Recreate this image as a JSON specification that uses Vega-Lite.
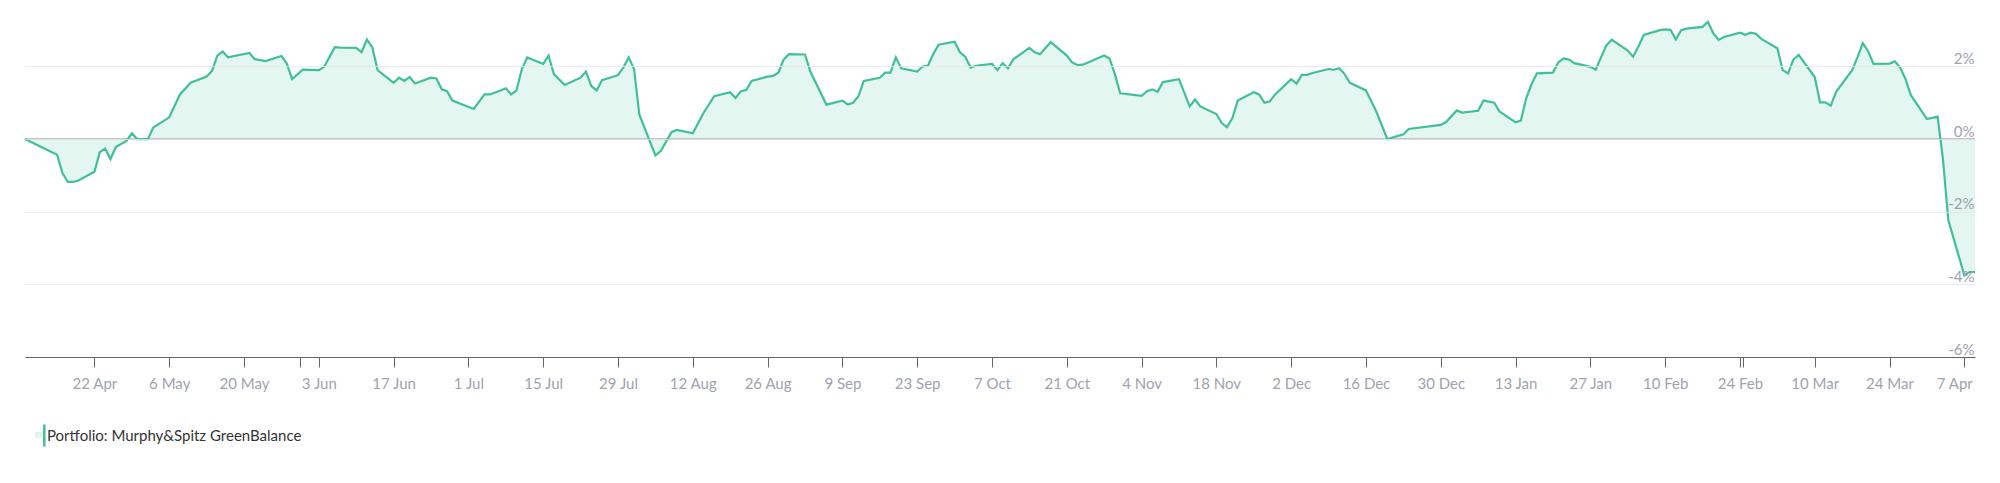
{
"$schema": "https://vega.github.io/schema/vega-lite/v6.json",
"width": 1950, "height": 357,
"autosize": {"type": "none"},
"padding": {"left": 25, "top": 0, "right": 25, "bottom": 126},
"background": "white",
"config": {"view": {"stroke": null}, "font": "Lato"},
"data": {"values": [
{"date":"2024-04-09","value":0},
{"date":"2024-04-15","value":-0.43},
{"date":"2024-04-16","value":-0.93},
{"date":"2024-04-17","value":-1.18},
{"date":"2024-04-18","value":-1.18},
{"date":"2024-04-19","value":-1.14},
{"date":"2024-04-22","value":-0.9},
{"date":"2024-04-23","value":-0.36},
{"date":"2024-04-24","value":-0.26},
{"date":"2024-04-25","value":-0.55},
{"date":"2024-04-26","value":-0.22},
{"date":"2024-04-28","value":-0.05},
{"date":"2024-04-29","value":0.16},
{"date":"2024-04-30","value":0},
{"date":"2024-05-02","value":0},
{"date":"2024-05-03","value":0.32},
{"date":"2024-05-06","value":0.6},
{"date":"2024-05-08","value":1.23},
{"date":"2024-05-10","value":1.55},
{"date":"2024-05-13","value":1.72},
{"date":"2024-05-14","value":1.88},
{"date":"2024-05-15","value":2.3},
{"date":"2024-05-16","value":2.41},
{"date":"2024-05-17","value":2.25},
{"date":"2024-05-21","value":2.37},
{"date":"2024-05-22","value":2.2},
{"date":"2024-05-24","value":2.15},
{"date":"2024-05-27","value":2.29},
{"date":"2024-05-28","value":2.08},
{"date":"2024-05-29","value":1.65},
{"date":"2024-05-31","value":1.91},
{"date":"2024-06-03","value":1.9},
{"date":"2024-06-04","value":1.99},
{"date":"2024-06-06","value":2.53},
{"date":"2024-06-07","value":2.52},
{"date":"2024-06-10","value":2.51},
{"date":"2024-06-11","value":2.39},
{"date":"2024-06-12","value":2.74},
{"date":"2024-06-13","value":2.53},
{"date":"2024-06-14","value":1.9},
{"date":"2024-06-17","value":1.55},
{"date":"2024-06-18","value":1.69},
{"date":"2024-06-19","value":1.6},
{"date":"2024-06-20","value":1.71},
{"date":"2024-06-21","value":1.53},
{"date":"2024-06-24","value":1.69},
{"date":"2024-06-25","value":1.67},
{"date":"2024-06-26","value":1.37},
{"date":"2024-06-27","value":1.32},
{"date":"2024-06-28","value":1.06},
{"date":"2024-07-02","value":0.83},
{"date":"2024-07-04","value":1.23},
{"date":"2024-07-05","value":1.23},
{"date":"2024-07-07","value":1.34},
{"date":"2024-07-08","value":1.4},
{"date":"2024-07-09","value":1.23},
{"date":"2024-07-10","value":1.34},
{"date":"2024-07-11","value":1.93},
{"date":"2024-07-12","value":2.25},
{"date":"2024-07-15","value":2.07},
{"date":"2024-07-16","value":2.3},
{"date":"2024-07-17","value":1.79},
{"date":"2024-07-19","value":1.49},
{"date":"2024-07-22","value":1.69},
{"date":"2024-07-23","value":1.86},
{"date":"2024-07-24","value":1.46},
{"date":"2024-07-25","value":1.34},
{"date":"2024-07-26","value":1.62},
{"date":"2024-07-29","value":1.76},
{"date":"2024-07-30","value":1.97},
{"date":"2024-07-31","value":2.25},
{"date":"2024-08-01","value":1.93},
{"date":"2024-08-02","value":0.67},
{"date":"2024-08-05","value":-0.45},
{"date":"2024-08-06","value":-0.33},
{"date":"2024-08-07","value":-0.07},
{"date":"2024-08-08","value":0.19},
{"date":"2024-08-09","value":0.25},
{"date":"2024-08-12","value":0.16},
{"date":"2024-08-14","value":0.72},
{"date":"2024-08-16","value":1.18},
{"date":"2024-08-19","value":1.29},
{"date":"2024-08-20","value":1.13},
{"date":"2024-08-21","value":1.32},
{"date":"2024-08-22","value":1.35},
{"date":"2024-08-23","value":1.6},
{"date":"2024-08-26","value":1.72},
{"date":"2024-08-27","value":1.74},
{"date":"2024-08-28","value":1.83},
{"date":"2024-08-29","value":2.19},
{"date":"2024-08-30","value":2.34},
{"date":"2024-09-02","value":2.33},
{"date":"2024-09-03","value":1.86},
{"date":"2024-09-06","value":0.95},
{"date":"2024-09-09","value":1.06},
{"date":"2024-09-10","value":0.95},
{"date":"2024-09-11","value":1.0},
{"date":"2024-09-12","value":1.18},
{"date":"2024-09-13","value":1.6},
{"date":"2024-09-16","value":1.69},
{"date":"2024-09-17","value":1.83},
{"date":"2024-09-18","value":1.83},
{"date":"2024-09-19","value":2.25},
{"date":"2024-09-20","value":1.95},
{"date":"2024-09-23","value":1.86},
{"date":"2024-09-24","value":2.0},
{"date":"2024-09-25","value":2.02},
{"date":"2024-09-26","value":2.34},
{"date":"2024-09-27","value":2.6},
{"date":"2024-09-30","value":2.68},
{"date":"2024-10-01","value":2.39},
{"date":"2024-10-02","value":2.27},
{"date":"2024-10-03","value":1.97},
{"date":"2024-10-04","value":2.02},
{"date":"2024-10-07","value":2.07},
{"date":"2024-10-08","value":1.9},
{"date":"2024-10-09","value":2.09},
{"date":"2024-10-10","value":1.95},
{"date":"2024-10-11","value":2.2},
{"date":"2024-10-14","value":2.51},
{"date":"2024-10-15","value":2.39},
{"date":"2024-10-16","value":2.34},
{"date":"2024-10-18","value":2.67},
{"date":"2024-10-21","value":2.3},
{"date":"2024-10-22","value":2.11},
{"date":"2024-10-23","value":2.04},
{"date":"2024-10-24","value":2.05},
{"date":"2024-10-28","value":2.3},
{"date":"2024-10-29","value":2.22},
{"date":"2024-10-30","value":1.79},
{"date":"2024-10-31","value":1.26},
{"date":"2024-11-04","value":1.19},
{"date":"2024-11-05","value":1.32},
{"date":"2024-11-06","value":1.37},
{"date":"2024-11-07","value":1.3},
{"date":"2024-11-08","value":1.57},
{"date":"2024-11-11","value":1.65},
{"date":"2024-11-13","value":0.9},
{"date":"2024-11-14","value":1.09},
{"date":"2024-11-15","value":0.9},
{"date":"2024-11-18","value":0.69},
{"date":"2024-11-19","value":0.44},
{"date":"2024-11-20","value":0.33},
{"date":"2024-11-21","value":0.58},
{"date":"2024-11-22","value":1.06},
{"date":"2024-11-25","value":1.29},
{"date":"2024-11-26","value":1.23},
{"date":"2024-11-27","value":1.0},
{"date":"2024-11-28","value":1.04},
{"date":"2024-11-29","value":1.23},
{"date":"2024-12-02","value":1.65},
{"date":"2024-12-03","value":1.53},
{"date":"2024-12-04","value":1.77},
{"date":"2024-12-05","value":1.77},
{"date":"2024-12-06","value":1.82},
{"date":"2024-12-09","value":1.93},
{"date":"2024-12-10","value":1.91},
{"date":"2024-12-11","value":1.95},
{"date":"2024-12-12","value":1.79},
{"date":"2024-12-13","value":1.55},
{"date":"2024-12-16","value":1.34},
{"date":"2024-12-17","value":1.04},
{"date":"2024-12-18","value":0.74},
{"date":"2024-12-20","value":0},
{"date":"2024-12-23","value":0.13},
{"date":"2024-12-24","value":0.28},
{"date":"2024-12-30","value":0.39},
{"date":"2024-12-31","value":0.47},
{"date":"2025-01-02","value":0.79},
{"date":"2025-01-03","value":0.73},
{"date":"2025-01-06","value":0.78},
{"date":"2025-01-07","value":1.06},
{"date":"2025-01-09","value":1.0},
{"date":"2025-01-10","value":0.76},
{"date":"2025-01-13","value":0.46},
{"date":"2025-01-14","value":0.51},
{"date":"2025-01-15","value":1.13},
{"date":"2025-01-16","value":1.51},
{"date":"2025-01-17","value":1.81},
{"date":"2025-01-20","value":1.83},
{"date":"2025-01-21","value":2.11},
{"date":"2025-01-22","value":2.22},
{"date":"2025-01-23","value":2.19},
{"date":"2025-01-24","value":2.09},
{"date":"2025-01-27","value":1.99},
{"date":"2025-01-28","value":1.91},
{"date":"2025-01-29","value":2.25},
{"date":"2025-01-30","value":2.58},
{"date":"2025-01-31","value":2.74},
{"date":"2025-02-03","value":2.44},
{"date":"2025-02-04","value":2.27},
{"date":"2025-02-05","value":2.55},
{"date":"2025-02-06","value":2.87},
{"date":"2025-02-09","value":3.0},
{"date":"2025-02-10","value":3.02},
{"date":"2025-02-11","value":3.01},
{"date":"2025-02-12","value":2.74},
{"date":"2025-02-13","value":3.0},
{"date":"2025-02-14","value":3.04},
{"date":"2025-02-17","value":3.09},
{"date":"2025-02-18","value":3.23},
{"date":"2025-02-19","value":2.92},
{"date":"2025-02-20","value":2.73},
{"date":"2025-02-21","value":2.81},
{"date":"2025-02-24","value":2.93},
{"date":"2025-02-25","value":2.87},
{"date":"2025-02-26","value":2.93},
{"date":"2025-02-27","value":2.9},
{"date":"2025-02-28","value":2.76},
{"date":"2025-03-03","value":2.5},
{"date":"2025-03-04","value":1.9},
{"date":"2025-03-05","value":1.81},
{"date":"2025-03-06","value":2.19},
{"date":"2025-03-07","value":2.32},
{"date":"2025-03-10","value":1.71},
{"date":"2025-03-11","value":1.01},
{"date":"2025-03-12","value":1.01},
{"date":"2025-03-13","value":0.92},
{"date":"2025-03-14","value":1.3},
{"date":"2025-03-17","value":1.9},
{"date":"2025-03-18","value":2.25},
{"date":"2025-03-19","value":2.64},
{"date":"2025-03-20","value":2.42},
{"date":"2025-03-21","value":2.07},
{"date":"2025-03-24","value":2.08},
{"date":"2025-03-25","value":2.14},
{"date":"2025-03-26","value":1.97},
{"date":"2025-03-27","value":1.65},
{"date":"2025-03-28","value":1.21},
{"date":"2025-03-31","value":0.55},
{"date":"2025-04-02","value":0.62},
{"date":"2025-04-03","value":-0.55},
{"date":"2025-04-04","value":-2.23},
{"date":"2025-04-07","value":-3.75},
{"date":"2025-04-08","value":-3.66},
{"date":"2025-04-09","value":-3.66}
]},
"layer": [
{
 "mark": {"type": "area", "opacity": 1, "interpolate": "linear"},
 "encoding": {
  "x": {"field": "date", "type": "temporal",
   "scale": {"type": "utc", "domain": [{"year":2024,"month":4,"date":9,"utc":true},{"year":2025,"month":4,"date":9,"utc":true}]},
   "axis": {"title": null, "format": "%-d %b",
    "values": [
     {"year":2024,"month":4,"date":22,"utc":true},{"year":2024,"month":5,"date":6,"utc":true},{"year":2024,"month":5,"date":20,"utc":true},
     {"year":2024,"month":5,"date":30,"hours":10,"utc":true},
     {"year":2024,"month":6,"date":3,"utc":true},{"year":2024,"month":6,"date":17,"utc":true},{"year":2024,"month":7,"date":1,"utc":true},
     {"year":2024,"month":7,"date":15,"utc":true},{"year":2024,"month":7,"date":29,"utc":true},{"year":2024,"month":8,"date":12,"utc":true},
     {"year":2024,"month":8,"date":26,"utc":true},{"year":2024,"month":9,"date":9,"utc":true},{"year":2024,"month":9,"date":23,"utc":true},
     {"year":2024,"month":10,"date":7,"utc":true},{"year":2024,"month":10,"date":21,"utc":true},{"year":2024,"month":11,"date":4,"utc":true},
     {"year":2024,"month":11,"date":18,"utc":true},{"year":2024,"month":12,"date":2,"utc":true},{"year":2024,"month":12,"date":16,"utc":true},
     {"year":2024,"month":12,"date":30,"utc":true},{"year":2025,"month":1,"date":13,"utc":true},{"year":2025,"month":1,"date":27,"utc":true},
     {"year":2025,"month":2,"date":10,"utc":true},{"year":2025,"month":2,"date":24,"utc":true},
     {"year":2025,"month":2,"date":24,"hours":16,"utc":true},
     {"year":2025,"month":3,"date":10,"utc":true},
     {"year":2025,"month":3,"date":24,"utc":true},{"year":2025,"month":4,"date":7,"utc":true}
    ],
    "labelExpr": "utchours(datum.value) == 0 ? datum.label : ''",
    "labelFont": "Lato", "labelFontSize": 15, "labelColor": "#9ea3b0",
    "labelPadding": 9, "labelOverlap": false, "labelFlush": false,
    "labelOffset": {"condition": {"test": "utcyear(datum.value) == 2025 && utcmonth(datum.value) == 3", "value": -10}, "value": 0},
    "tickColor": "#666666", "tickSize": 10, "tickWidth": 1,
    "domainColor": "#666666", "domainWidth": 1, "grid": false, "zindex": 1}},
  "y": {"field": "value", "type": "quantitative",
   "scale": {"domain": [-6, 3.83], "nice": false},
   "axis": {"orient": "right", "title": null, "values": [-6, -4, -2, 0, 2],
    "labelExpr": "datum.value + '%'",
    "grid": true, "gridColor": "#e6e6e6", "gridWidth": 1, "gridOpacity": 0.8,
    "ticks": false, "tickSize": 0, "domain": false, "zindex": 1,
    "labelAlign": "right", "labelPadding": -1, "labelBaseline": "alphabetic", "labelOffset": -3,
    "labelFont": "Lato", "labelFontSize": 15, "labelColor": "#9ea3b0"}},
  "fill": {"datum": "area", "type": "nominal", "scale": {"range": ["#e3f6f0"]},
   "legend": {"orient": "none", "legendX": 9, "legendY": 430, "title": null, "padding": 0,
    "symbolType": "M-1,-0.75H1V0.75H-1Z", "symbolSize": 64, "symbolStrokeWidth": 0,
    "labelExpr": "''"}}
 }
},
{
 "mark": {"type": "rule", "color": "#c4c4c4", "strokeWidth": 2},
 "encoding": {"y": {"datum": 0}}
},
{
 "mark": {"type": "line", "strokeWidth": 2.2, "interpolate": "linear"},
 "encoding": {
  "x": {"field": "date", "type": "temporal"},
  "y": {"field": "value", "type": "quantitative"},
  "stroke": {"datum": "Portfolio: Murphy&Spitz GreenBalance", "type": "nominal", "scale": {"range": ["#41bf9c"]},
   "legend": {"orient": "none", "legendX": -2, "legendY": 423, "title": null, "padding": 0,
    "symbolType": "M0.8,-1L0.8,1", "symbolSize": 484, "symbolStrokeWidth": 2.5,
    "labelFont": "Lato", "labelFontSize": 15, "labelColor": "#333333", "labelOffset": -1, "labelLimit": 0}}
 }
}
]
}
